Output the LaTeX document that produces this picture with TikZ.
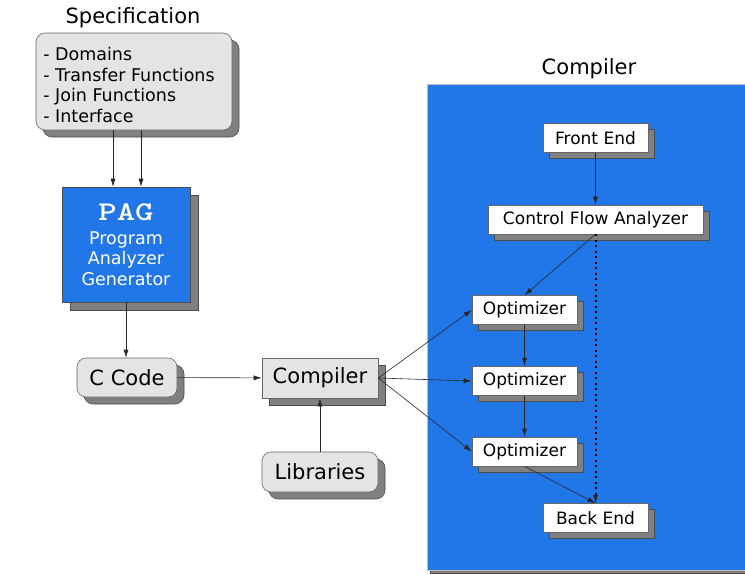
\documentclass[tikz,border=0pt]{standalone}
\usepackage{fontspec}
\setmainfont{DejaVu Sans}
\usetikzlibrary{arrows.meta,shadows}
\definecolor{pagblue}{RGB}{34,119,232}
\definecolor{boxgray}{RGB}{228,228,228}
\definecolor{shadegray}{RGB}{128,128,128}

\begin{document}
\begin{tikzpicture}[x=1pt,y=-1pt,line width=0.6pt,
  arr/.style={-{Latex[length=8pt,width=5pt]},black!85},
  boxshadow/.style={copy shadow={shadow xshift=#1,shadow yshift=-#1,fill=shadegray,draw=black!70}},
  graybox/.style={draw=black!60,fill=boxgray,rounded corners=9pt,boxshadow=7pt,inner sep=0pt,font=\fontsize{21}{24}\selectfont},
  whitebox/.style={draw=black!60,fill=white,boxshadow=6pt,minimum width=105pt,minimum height=29pt,inner sep=0pt,font=\fontsize{17}{20}\selectfont}]
  \useasboundingbox (0,0) rectangle (745,574);
  \clip (0,0) rectangle (745,574);
  % left side: specification and generator
  \node[font=\fontsize{21}{24}\selectfont] (spectitle) at (133,18) {Specification};
  \node[graybox,minimum width=196pt,minimum height=97pt] (spec) at (134,81.5) {};
  \node[anchor=west,align=left,inner sep=0pt,font=\fontsize{17.5}{20.6}\selectfont] (spectext) at (43,85)
        {- Domains\\- Transfer Functions\\- Join Functions\\- Interface};
  \node[draw=black!70,fill=pagblue,text=white,minimum width=128pt,minimum height=115pt,
        boxshadow=8pt,align=center,font=\fontsize{17.5}{20.5}\selectfont] (pag) at (126,244.5)
        {\scalebox{1.3}[1]{\ttfamily\bfseries\fontsize{27}{27}\selectfont PAG}\\[3pt]Program\\Analyzer\\Generator};
  \node[graybox,minimum width=100pt,minimum height=39pt] (ccode) at (127,377.5) {C Code};
  \node[graybox,rounded corners=0pt,minimum width=116pt,minimum height=40pt] (comp) at (320,378) {Compiler};
  \node[graybox,minimum width=116pt,minimum height=40pt] (libs) at (320,472) {Libraries};
  % right side: the compiler
  \node[font=\fontsize{21}{24}\selectfont] (comptitle) at (589,69) {Compiler};
  \node[draw=black!25,fill=pagblue,minimum width=333pt,minimum height=486pt,boxshadow=3pt] (cbox) at (593.5,327) {};
  \node[whitebox] (front) at (595.5,138) {Front End};
  \node[whitebox,minimum width=215pt] (cfa) at (595.5,219.5) {Control Flow Analyzer};
  \node[whitebox] (opt1) at (524.5,310) {Optimizer};
  \node[whitebox] (opt2) at (524.5,381) {Optimizer};
  \node[whitebox] (opt3) at (524.5,451.5) {Optimizer};
  \node[whitebox] (back) at (595.5,518) {Back End};
  % connectors
  \draw[arr] ([xshift=-21pt]spec.south) -- ([xshift=-13pt]pag.north);
  \draw[arr] ([xshift=7pt]spec.south) -- ([xshift=15pt]pag.north);
  \draw[arr] (pag.south) -- (pag.south |- ccode.north);
  \draw[arr] (ccode) -- (comp);
  \draw[arr] (libs) -- (comp);
  \foreach \o in {opt1,opt2,opt3}
    \draw[arr] (comp.east) -- (\o.west);
  \draw[arr] (front) -- (cfa);
  \draw[arr] (cfa.south) -- (opt1.north);
  \draw[arr] (opt1) -- (opt2);
  \draw[arr] (opt2) -- (opt3);
  \draw[arr] (opt3.south) -- (back.north);
  \draw[black,line width=2pt,dash pattern=on 2pt off 3.5pt] (cfa.south) -- ([yshift=8pt]back.north);
  \draw[arr] ([yshift=9pt]back.north) -- (back.north);
\end{tikzpicture}
\end{document}
